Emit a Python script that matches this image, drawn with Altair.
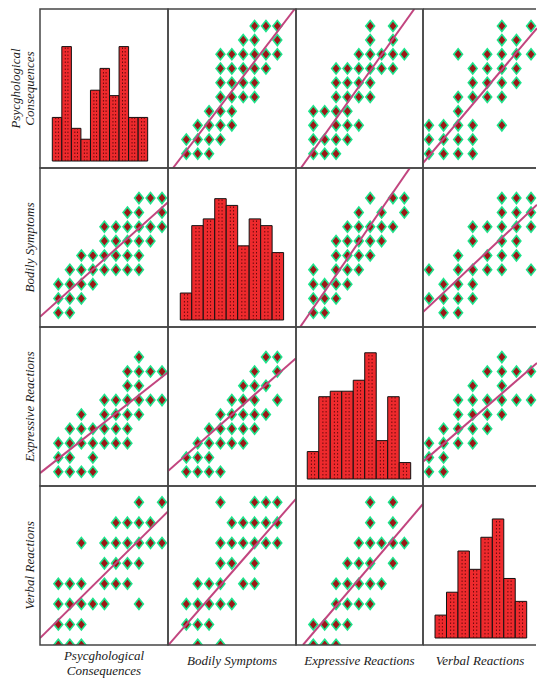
import altair as alt
import pandas as pd

VAR_KEYS = ["P", "B", "E", "V"]
TITLES = ["Psycghological\nConsequences", "Bodily Symptoms", "Expressive Reactions", "Verbal Reactions"]

# histogram counts (bars left to right)
hist_P = [8, 21, 6, 4, 13, 17, 12, 21, 8, 8]
hist_B = [4, 14, 15, 18, 17, 11, 15, 14, 10]
hist_E = [5, 15, 16, 16, 18, 23, 7, 15, 3]
hist_V = [5, 10, 19, 15, 22, 26, 13, 8]
HIST = {"P": hist_P, "B": hist_B, "E": hist_E, "V": hist_V}

# scatter points: for each level of the first variable, the levels of the second one
PB = [[1, 2, 3], [1, 2, 3, 4], [2, 3, 4, 5], [3, 4, 5], [4, 5, 6, 7], [4, 5, 6, 7],
      [4, 5, 6, 7, 8], [4, 5, 6, 7, 8, 9], [6, 7, 9], [7, 8, 9]]
PE = [[1, 2, 3], [1, 2, 3, 4], [1, 3, 4, 5], [1, 2, 3, 4], [3, 4, 5, 6], [3, 4, 5, 6],
      [3, 4, 5, 6, 7, 8], [5, 6, 7, 8, 9], [6, 8], [6, 8]]
PV = [[1, 2, 3, 4], [1, 2, 3, 4], [1, 2, 3, 4, 6], [3], [3, 4, 5, 6], [4, 5, 6, 7],
      [4, 5, 6, 7], [3, 5, 6, 7, 8], [6, 7], [6, 8]]
BE = [[1, 2], [1, 2, 3], [1, 2, 3, 4], [1, 3, 4, 5], [3, 4, 5, 6], [3, 4, 5, 6, 7],
      [4, 5, 6, 7, 8], [5, 7, 9], [6, 8, 9]]
BV = [[2, 3], [1, 2, 3, 4], [2, 3, 4], [1, 3, 4, 5, 6, 8], [3, 5, 6, 7], [4, 6, 7],
      [4, 5, 6, 7, 8], [6, 7, 8], [6, 7, 8]]
EV = [[1, 2], [1, 2], [1, 2, 3, 4], [2, 3, 4, 5], [3, 4, 5, 6], [3, 4, 5, 6, 7, 8],
      [4, 6], [5, 6, 7, 8], [6]]
PAIRS = {("P", "B"): PB, ("P", "E"): PE, ("P", "V"): PV,
         ("B", "E"): BE, ("B", "V"): BV, ("E", "V"): EV}

# fitted lines per panel (y variable, x variable): intercept, slope
LINES = {
    ("P", "B"): (0.18, 1.046), ("B", "P"): (1.145, 0.72),
    ("P", "E"): (0.10, 1.123), ("E", "P"): (1.28, 0.633),
    ("P", "V"): (-0.37, 1.214), ("V", "P"): (1.66, 0.56),
    ("B", "E"): (0.19, 1.15), ("E", "B"): (1.48, 0.70),
    ("B", "V"): (0.49, 0.957), ("V", "B"): (1.36, 0.64),
    ("E", "V"): (1.19, 0.88), ("V", "E"): (0.93, 0.657),
}

COL_W = [128, 128, 127, 114]
ROW_H = [159, 159, 159, 159]
LABEL_W = 32
BOTTOM_H = 26

X_DOMAIN = {"P": [-0.59, 10.52], "B": [-0.61, 10.64], "E": [-0.52, 10.64], "V": [0.59, 8.41]}
Y_DOMAIN = {"P": [0.0, 11.19], "B": [0.01, 11.1], "E": [0.01, 11.1], "V": [0.99, 8.8]}
HX_DOMAIN = {"P": [-1.29, 12.13], "B": [-1.07, 10.08], "E": [-0.98, 10.07], "V": [-1.05, 8.9]}
HY_DOMAIN = {"P": [-1.28, 27.9], "B": [-1.04, 22.55], "E": [-1.27, 27.7], "V": [-1.53, 33.2]}

FONT = "Liberation Serif"
FRAME = "#454545"
DIAMOND = "M0,-1L0.8,0L0,1L-0.8,0Z"


def pair_points(xk, yk):
    rows = []
    if (yk, xk) in PAIRS:
        for i, lst in enumerate(PAIRS[(yk, xk)]):
            for v in lst:
                rows.append({"x": v, "y": i + 1})
    else:
        for i, lst in enumerate(PAIRS[(xk, yk)]):
            for v in lst:
                rows.append({"x": i + 1, "y": v})
    return pd.DataFrame(rows)


def frame_layers(c, w, h):
    f = pd.DataFrame({"k": [0]})
    base = alt.Chart(f)
    if c != 3:
        return [base.mark_rect(filled=False, stroke=FRAME, strokeWidth=1.5).encode(
            x=alt.value(0), x2=alt.value(w), y=alt.value(0), y2=alt.value(h))]
    left = base.mark_rule(color=FRAME, strokeWidth=1.5).encode(
        x=alt.value(0), y=alt.value(0), y2=alt.value(h))
    top = base.mark_rule(color=FRAME, strokeWidth=1.5).encode(
        x=alt.value(0), x2=alt.value(w - 1), y=alt.value(0))
    bot = base.mark_rule(color=FRAME, strokeWidth=1.5).encode(
        x=alt.value(0), x2=alt.value(w - 1), y=alt.value(h))
    return [left, top, bot]


def hist_panel(r, c):
    k = VAR_KEYS[r]
    counts = HIST[k]
    df = pd.DataFrame({"i": list(range(len(counts))), "n": counts})
    df["i2"] = df["i"] + 1
    df["base"] = 0
    xs = alt.Scale(domain=HX_DOMAIN[k], nice=False, zero=False)
    ys = alt.Scale(domain=HY_DOMAIN[k], nice=False, zero=False)
    bars = alt.Chart(df).mark_rect(fill="#EE2A2D", stroke="#111111", strokeWidth=1).encode(
        x=alt.X("i:Q", scale=xs, axis=None), x2="i2:Q",
        y=alt.Y("base:Q", scale=ys, axis=None), y2="n:Q")
    dots = []
    for off in (0.36, 0.64):
        d = df.copy()
        d["xm"] = d["i"] + off
        dots.append(alt.Chart(d).mark_rule(color="#6a0a0c", strokeWidth=1, strokeDash=[1.5, 2]).encode(
            x=alt.X("xm:Q", scale=xs, axis=None),
            y=alt.Y("base:Q", scale=ys, axis=None), y2="n:Q"))
    w, h = COL_W[c], ROW_H[r]
    return alt.layer(bars, *dots, *frame_layers(c, w, h)).properties(width=w, height=h)


def line_segment(a, b, xd, yd):
    xs0 = max(xd[0], (yd[0] - a) / b)
    xs1 = min(xd[1], (yd[1] - a) / b)
    return pd.DataFrame({"x": [xs0, xs1], "y": [a + b * xs0, a + b * xs1]})


def scatter_panel(r, c):
    yk, xk = VAR_KEYS[r], VAR_KEYS[c]
    pts = pair_points(xk, yk)
    xs = alt.Scale(domain=X_DOMAIN[xk], nice=False, zero=False)
    ys = alt.Scale(domain=Y_DOMAIN[yk], nice=False, zero=False)
    a, b = LINES[(yk, xk)]
    ldf = line_segment(a, b, X_DOMAIN[xk], Y_DOMAIN[yk])
    line = alt.Chart(ldf).mark_line(color="#C2457F", strokeWidth=2, clip=True).encode(
        x=alt.X("x:Q", scale=xs, axis=None), y=alt.Y("y:Q", scale=ys, axis=None))
    points = alt.Chart(pts).mark_point(
        shape=DIAMOND, filled=True, size=121, fill="#9C1717", fillOpacity=1,
        stroke="#1FE38C", strokeWidth=1.6, opacity=1, clip=True).encode(
        x=alt.X("x:Q", scale=xs, axis=None), y=alt.Y("y:Q", scale=ys, axis=None))
    w, h = COL_W[c], ROW_H[r]
    return alt.layer(points, line, *frame_layers(c, w, h)).properties(width=w, height=h)


def panel(r, c):
    return hist_panel(r, c) if r == c else scatter_panel(r, c)


def text_cell(txt, w, h, px, py, angle, lh=14):
    df = pd.DataFrame({"t": [txt]})
    return alt.Chart(df).mark_text(
        font=FONT, fontStyle="italic", fontSize=13, color="#1a1a1a", angle=angle,
        align="center", baseline="middle", lineBreak="\n", lineHeight=lh).encode(
        text="t:N", x=alt.value(px), y=alt.value(py)).properties(width=w, height=h)


cells = []
for r in range(4):
    lx = 8 if r == 0 else 22
    cells.append(text_cell(TITLES[r], LABEL_W, ROW_H[r], lx, ROW_H[r] / 2, 270))
    for c in range(4):
        cells.append(panel(r, c))
cells.append(text_cell("", LABEL_W, BOTTOM_H, 2, 10, 0))
for c in range(4):
    by = 11 if c == 0 else 16
    cells.append(text_cell(TITLES[c], COL_W[c], BOTTOM_H, COL_W[c] / 2, by, 0, lh=15))

chart = alt.concat(*cells, columns=5, spacing=0, bounds="flush").properties(
    padding=0, background="white"
).configure_view(strokeWidth=0)

chart.save("out.html", embed_options={"renderer": "svg", "actions": False})
